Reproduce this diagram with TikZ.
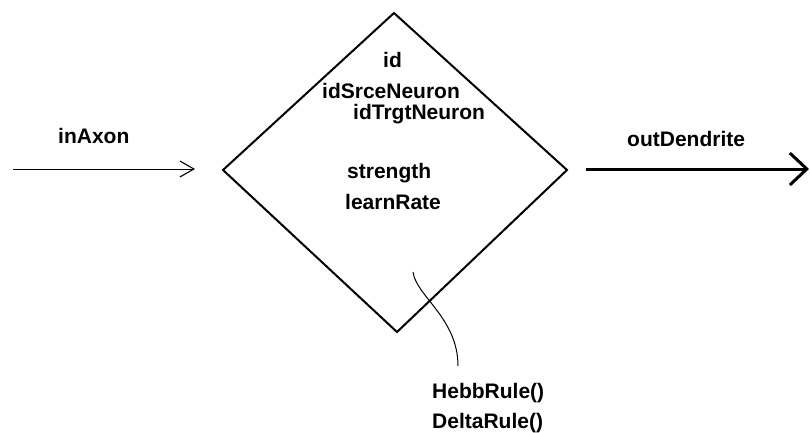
\documentclass[tikz,border=0pt]{standalone}
\usepackage{fontspec}
\setmainfont{Liberation Sans}
\usetikzlibrary{arrows.meta}
\begin{document}
\begin{tikzpicture}[x=1pt,y=-1pt,
  lbl/.style={anchor=base west,inner sep=0pt,font=\fontsize{21}{24}\selectfont\bfseries},
  edge/.style={line width=2pt,line join=miter},
  thin/.style={line width=1pt}]
\useasboundingbox (0,0) rectangle (810,432);
% synapse diamond
\coordinate (top) at (394,13);
\coordinate (lft) at (223,170);
\coordinate (rgt) at (567,170);
\coordinate (bot) at (397,332);
\draw[edge] (top) -- (rgt) -- (bot) -- (lft) -- cycle;
% attributes
\node[lbl] (id) at (383,67) {id};
\node[lbl] (src) at (322,98) {idSrceNeuron};
\node[lbl] (trg) at (353,119) {idTrgtNeuron};
\node[lbl] (str) at (347,178) {strength};
\node[lbl] (lr) at (345,209) {learnRate};
% input
\coordinate (inA) at (13,169);
\coordinate (inB) at (195,169);
\node[lbl] (inl) at (58,143) {inAxon};
\draw[thin,-{Straight Barb[length=14pt,width=16pt,line width=1.1pt]}] (inA) -- (inB);
% output
\coordinate (outA) at (586,169);
\coordinate (outB) at (809,169);
\node[lbl] (outl) at (627,146) {outDendrite};
\draw[line width=3pt,-{Straight Barb[length=17pt,width=32pt,line width=3pt]}] (outA) -- (outB);
% methods
\coordinate (cA) at (413,272);
\coordinate (cB) at (458,366);
\draw[thin] (cA) .. controls (416,296) and (458,318) .. (cB);
\node[lbl] (hebb) at (432,398) {HebbRule()};
\node[lbl] (delta) at (432,428) {DeltaRule()};
\end{tikzpicture}
\end{document}
